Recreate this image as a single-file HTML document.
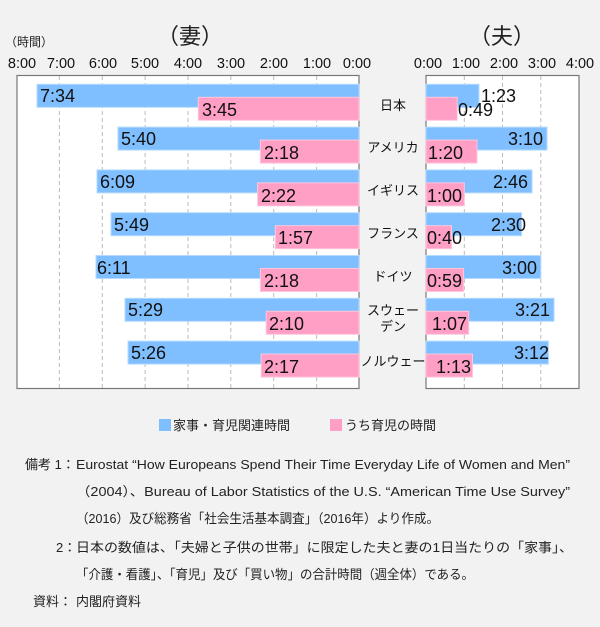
<!DOCTYPE html>
<html><head><meta charset="utf-8"><style>
html,body{margin:0;padding:0;background:#f2f2f2;}
svg{display:block;font-family:"Liberation Sans","Noto Sans CJK JP",sans-serif;}
</style></head><body>
<svg width="600" height="627" viewBox="0 0 600 627" xmlns="http://www.w3.org/2000/svg">
<rect width="600" height="627" fill="#f2f2f2"/>
<text x="5" y="46" font-size="12" fill="#222">（時間）</text>
<text x="190" y="44" font-size="22" text-anchor="middle" fill="#222">（妻）</text>
<text x="502" y="44" font-size="22" text-anchor="middle" fill="#222">（夫）</text>
<g font-size="14.5" text-anchor="middle" fill="#111">
<text x="22" y="68">8:00</text><text x="61" y="68">7:00</text><text x="103" y="68">6:00</text><text x="145" y="68">5:00</text><text x="188" y="68">4:00</text><text x="231" y="68">3:00</text><text x="274" y="68">2:00</text><text x="317" y="68">1:00</text><text x="357" y="68">0:00</text>
<text x="428" y="68">0:00</text><text x="466" y="68">1:00</text><text x="504" y="68">2:00</text><text x="542" y="68">3:00</text><text x="580" y="68">4:00</text>
</g>
<rect x="17" y="75.5" width="342" height="313" fill="#fff" stroke="#777" stroke-width="1.2"/>
<rect x="426" y="75.5" width="153" height="313" fill="#fff" stroke="#777" stroke-width="1.2"/>
<g stroke="#bbb" stroke-dasharray="4,3" stroke-width="1">
<line x1="59.4" y1="76" x2="59.4" y2="388"/><line x1="102.3" y1="76" x2="102.3" y2="388"/><line x1="145.1" y1="76" x2="145.1" y2="388"/><line x1="188" y1="76" x2="188" y2="388"/><line x1="230.8" y1="76" x2="230.8" y2="388"/><line x1="273.7" y1="76" x2="273.7" y2="388"/><line x1="316.6" y1="76" x2="316.6" y2="388"/>
<line x1="464.3" y1="76" x2="464.3" y2="388"/><line x1="502.5" y1="76" x2="502.5" y2="388"/><line x1="540.8" y1="76" x2="540.8" y2="388"/>
</g>
<g fill="#80bfff" stroke="#b5dbff" stroke-width="1">
<rect x="37" y="84.3" width="322" height="23"/>
<rect x="118" y="127.1" width="241" height="23"/>
<rect x="97" y="169.9" width="262" height="23"/>
<rect x="111" y="212.7" width="248" height="23"/>
<rect x="96" y="255.5" width="263" height="23"/>
<rect x="125" y="298.3" width="234" height="23"/>
<rect x="128" y="341.1" width="231" height="23"/>
<rect x="426" y="84.3" width="53" height="23"/>
<rect x="426" y="127.1" width="121" height="23"/>
<rect x="426" y="169.9" width="106" height="23"/>
<rect x="426" y="212.7" width="95.6" height="23"/>
<rect x="426" y="255.5" width="114.8" height="23"/>
<rect x="426" y="298.3" width="128" height="23"/>
<rect x="426" y="341.1" width="122.4" height="23"/>
</g>
<g fill="#ff9fc6" stroke="#ffc6dc" stroke-width="1">
<rect x="198.3" y="97.3" width="160.7" height="23"/>
<rect x="260.4" y="140.1" width="98.6" height="23"/>
<rect x="257.6" y="182.9" width="101.4" height="23"/>
<rect x="275.4" y="225.7" width="83.6" height="23"/>
<rect x="260.4" y="268.5" width="98.6" height="23"/>
<rect x="266.2" y="311.3" width="92.8" height="23"/>
<rect x="261.2" y="354.1" width="97.8" height="23"/>
<rect x="426" y="97.3" width="31.2" height="23"/>
<rect x="426" y="140.1" width="51" height="23"/>
<rect x="426" y="182.9" width="38.3" height="23"/>
<rect x="426" y="225.7" width="25.5" height="23"/>
<rect x="426" y="268.5" width="37.6" height="23"/>
<rect x="426" y="311.3" width="42.7" height="23"/>
<rect x="426" y="354.1" width="46.5" height="23"/>
</g>
<g font-size="18" fill="#111">
<text x="40" y="102">7:34</text>
<text x="121" y="145">5:40</text>
<text x="100" y="188">6:09</text>
<text x="114" y="231">5:49</text>
<text x="97" y="274">6:11</text>
<text x="128" y="316">5:29</text>
<text x="131" y="359">5:26</text>
<text x="202" y="116">3:45</text>
<text x="264" y="159">2:18</text>
<text x="261" y="202">2:22</text>
<text x="278" y="244">1:57</text>
<text x="264" y="287">2:18</text>
<text x="269" y="330">2:10</text>
<text x="264" y="373">2:17</text>
<text x="481" y="102">1:23</text>
<text x="458" y="116">0:49</text>
<text x="428" y="159">1:20</text>
<text x="427" y="202">1:00</text>
<text x="427" y="244">0:40</text>
<text x="427" y="287">0:59</text>
<text x="432" y="330">1:07</text>
<text x="436" y="373">1:13</text>
</g>
<g font-size="18" fill="#111" text-anchor="end">
<text x="543" y="145">3:10</text>
<text x="528" y="188">2:46</text>
<text x="526" y="231">2:30</text>
<text x="537" y="274">3:00</text>
<text x="550" y="316">3:21</text>
<text x="549" y="359">3:12</text>
</g>
<g font-size="13" fill="#111" text-anchor="middle">
<text x="393" y="110">日本</text>
<text x="393" y="152">アメリカ</text>
<text x="393" y="195">イギリス</text>
<text x="393" y="238">フランス</text>
<text x="393" y="281">ドイツ</text>
<text x="393" y="315">スウェー</text>
<text x="393" y="331">デン</text>
<text x="393" y="366">ノルウェー</text>
</g>
<rect x="159" y="419" width="12" height="12" fill="#80bfff"/>
<text x="173" y="430" font-size="13" fill="#222">家事・育児関連時間</text>
<rect x="330" y="419" width="12" height="12" fill="#ff9fc6"/>
<text x="345" y="430" font-size="13" fill="#222">うち育児の時間</text>
<g font-size="13" fill="#222">
<text x="25" y="469">備考 1：</text>
<text x="76" y="469" textLength="494" lengthAdjust="spacingAndGlyphs">Eurostat “How  Europeans Spend Their Time Everyday Life of Women and Men”</text>
<text x="76" y="496" textLength="494" lengthAdjust="spacingAndGlyphs">（2004）、Bureau of Labor Statistics of the U.S. “American Time Use Survey”</text>
<text x="76" y="523" textLength="363" lengthAdjust="spacingAndGlyphs">（2016）及び総務省「社会生活基本調査」（2016年）より作成。</text>
<text x="56" y="552">2：</text>
<text x="76" y="552" textLength="497" lengthAdjust="spacingAndGlyphs">日本の数値は、「夫婦と子供の世帯」に限定した夫と妻の1日当たりの「家事」、</text>
<text x="76" y="579" textLength="398" lengthAdjust="spacingAndGlyphs">「介護・看護」、「育児」及び「買い物」の合計時間（週全体）である。</text>
<text x="33" y="606">資料：</text>
<text x="76" y="606">内閣府資料</text>
</g>
</svg>
</body></html>
